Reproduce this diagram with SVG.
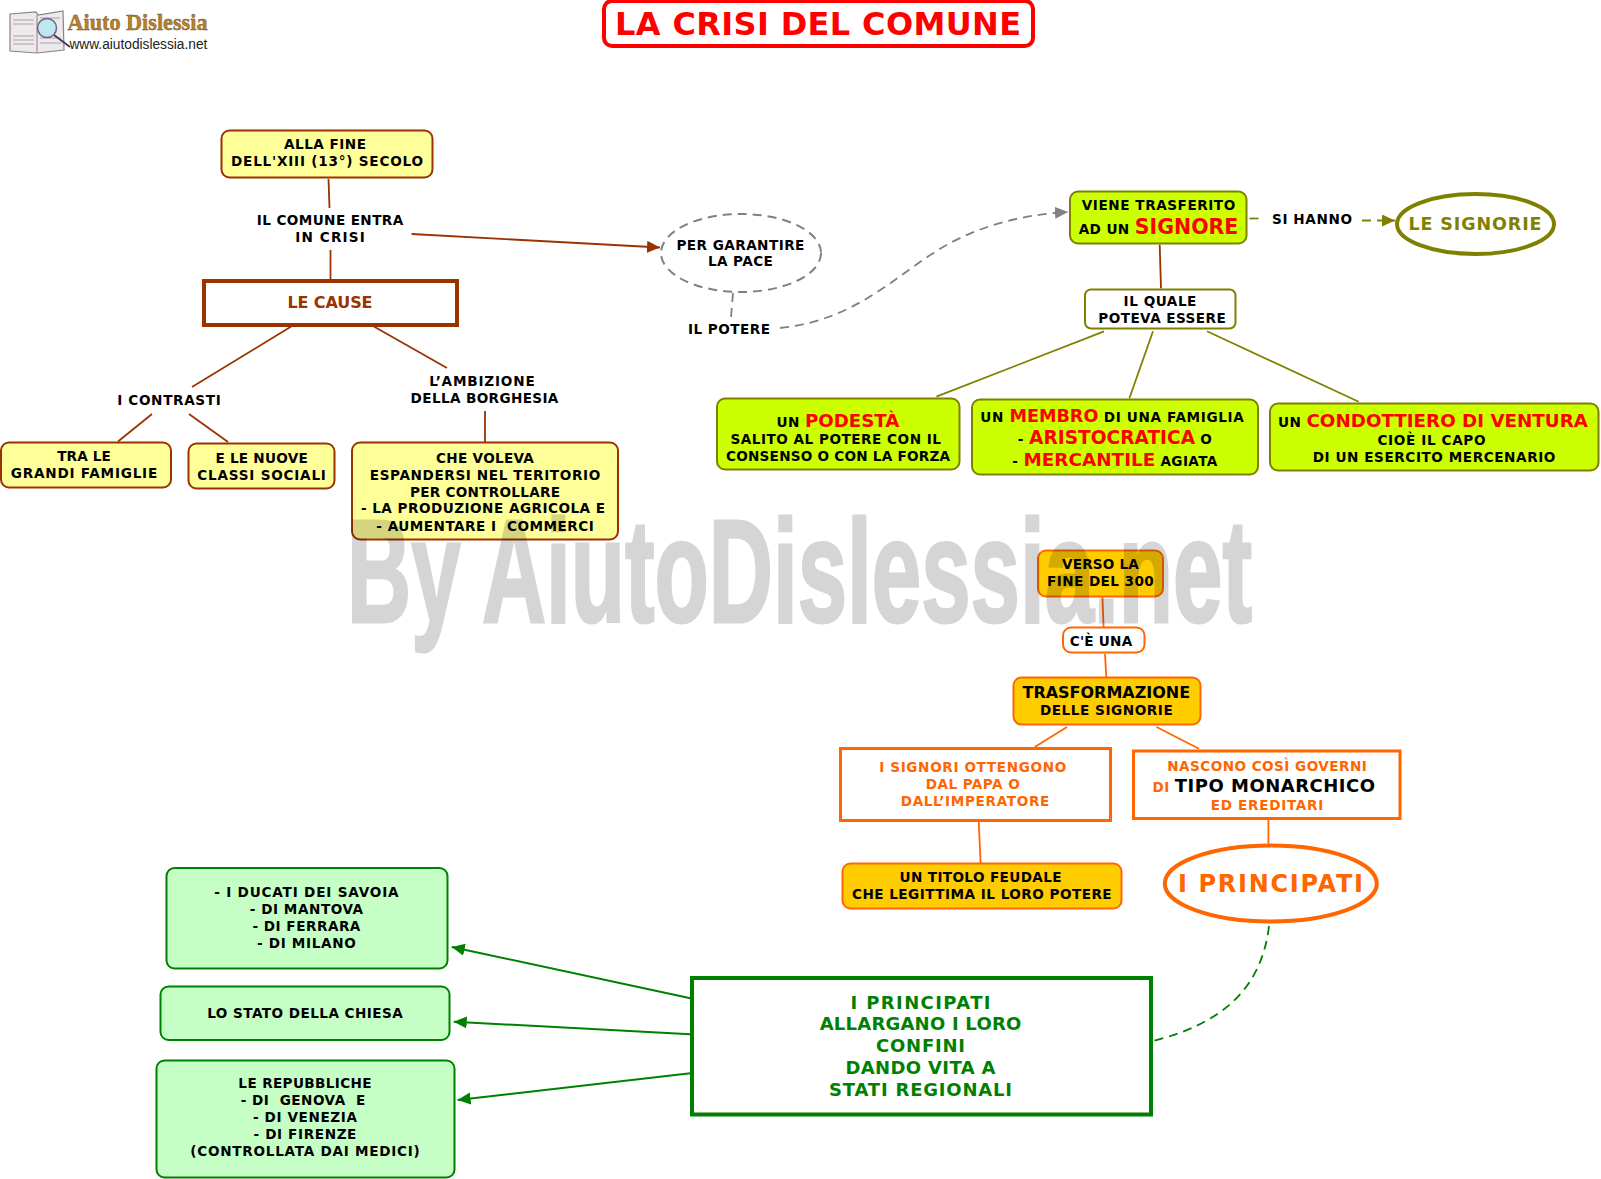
<svg xmlns="http://www.w3.org/2000/svg" width="1601" height="1179" viewBox="0 0 1601 1179">
<style>
text{font-family:"DejaVu Sans",Verdana,sans-serif;font-weight:bold;text-anchor:middle;font-size:13.6px;fill:#000;white-space:pre}
.y{fill:#ffff99;stroke:#993300;stroke-width:2}
.l{fill:#ccff00;stroke:#808000;stroke-width:2}
.o{fill:#ffcc00;stroke:#ff6600;stroke-width:2}
.g{fill:#c6ffc6;stroke:#008000;stroke-width:2}
.m{letter-spacing:.4px}
.r{fill:#ff0000;font-size:18.3px;letter-spacing:0}
.c{fill:none;stroke-width:1.8}
.br{stroke:#993300}.ol{stroke:#808000}.or{stroke:#ff6600}.gr{stroke:#008000}.gy{stroke:#808080}
.d{stroke-dasharray:9 6}
.ot{fill:#ff6600}
.v{font-size:18px;fill:#008000}
</style>
<defs>
<marker id="ab" markerUnits="userSpaceOnUse" markerWidth="14" markerHeight="14" refX="13" refY="6" orient="auto"><path d="M0 0L13 6L0 12Z" fill="#993300"/></marker>
<marker id="ag" markerUnits="userSpaceOnUse" markerWidth="14" markerHeight="14" refX="13" refY="6" orient="auto"><path d="M0 0L13 6L0 12Z" fill="#808080"/></marker>
<marker id="ao" markerUnits="userSpaceOnUse" markerWidth="14" markerHeight="14" refX="13" refY="6" orient="auto"><path d="M0 0L13 6L0 12Z" fill="#808000"/></marker>
<marker id="av" markerUnits="userSpaceOnUse" markerWidth="14" markerHeight="14" refX="13" refY="6" orient="auto"><path d="M0 0L13 6L0 12Z" fill="#008000"/></marker>
</defs>
<rect width="1601" height="1179" fill="#fff"/>
<g id="logo">
<path d="M10 14L36 12L38 15L63 11L64 50L37 53L10 51Z" fill="#eee9ea" stroke="#8d7f92" stroke-width="1.2"/>
<path d="M37 15V53" stroke="#8d7f92"/>
<path d="M13 20H34M13 24H34M13 36H34M13 40H34M13 44H34M40 38H61M40 43H61M40 18H60" stroke="#a9a3ae" stroke-width="1"/>
<circle cx="47" cy="28" r="9.500" fill="#bfe8ee" stroke="#70608a" stroke-width="1.500"/>
<path d="M54 35L70 47" stroke="#4a3a5a" stroke-width="2"/>
<text x="137.500" y="30" textLength="140" lengthAdjust="spacingAndGlyphs" style="font-family:'Liberation Serif',serif;font-size:23px;fill:#b8812a;stroke:#6b4a14;stroke-width:.4">Aiuto Dislessia</text>
<text x="138.400" y="49" textLength="138" lengthAdjust="spacingAndGlyphs" style="font-family:'Liberation Sans',sans-serif;font-size:14px;font-weight:normal;fill:#222">www.aiutodislessia.net</text>
</g>
<g id="connectors">
<path class="c br" d="M328.500 179L329.500 208"/>
<path class="c br" d="M330.500 250V279"/>
<path class="c br" marker-end="url(#ab)" d="M411.600 234L660 247.500"/>
<path class="c br" d="M292 326L192 387"/>
<path class="c br" d="M373 326L447 368"/>
<path class="c br" d="M152 414L118 441.500"/>
<path class="c br" d="M189 414L228 442"/>
<path class="c br" d="M485 411V442"/>
<path class="c gy d" d="M733 293L731 317"/>
<path class="c gy d" marker-end="url(#ag)" d="M780 328C860 320 900 270 950 243C985 225 1020 215 1068 212"/>
<path class="c ol d" d="M1249.500 218.500H1260"/>
<path class="c ol d" marker-end="url(#ao)" d="M1362 220.500H1395"/>
<path class="c br" d="M1159.700 244.700L1161 288.300"/>
<path class="c ol" d="M1104 331.300L936.400 396.700"/>
<path class="c ol" d="M1153 331.300L1129.400 398.300"/>
<path class="c ol" d="M1207 331.300L1358.700 401.700"/>
<g transform="translate(0 1)">
<path class="c or" d="M1102.400 596L1103.600 626"/>
<path class="c or" d="M1105 653L1106.300 676"/>
<path class="c or" d="M1067 726L1034.800 746"/>
<path class="c or" d="M1156.500 726L1199 747.700"/>
<path class="c or" d="M978.700 820L980.600 862"/>
<path class="c or" d="M1268.400 818.700V842.700"/>
<path class="c gr d" d="M1269 925C1262 985 1225 1022 1153 1040"/>
<path class="c gr" marker-end="url(#av)" style="stroke-width:2" d="M690.400 997.300L451.700 946"/>
<path class="c gr" marker-end="url(#av)" style="stroke-width:2" d="M690.400 1033.300L453.700 1020.700"/>
<path class="c gr" marker-end="url(#av)" style="stroke-width:2" d="M690.400 1072.300L457.600 1099"/>
</g>
</g>
<g id="titolo"><rect x="604" y="1" width="429" height="45" rx="8" fill="#fff" stroke="#ff0000" stroke-width="4"/><text x="818" y="35" textLength="406" style="font-size:32px;fill:#ff0000">LA CRISI DEL COMUNE</text></g>
<g id="alla-fine"><rect class="y" x="221.500" y="130.500" width="211" height="47" rx="8"/><text x="325" y="149" textLength="82">ALLA FINE</text><text x="327" y="166" textLength="192">DELL'XIII (13°) SECOLO</text></g>
<g id="comune"><text x="330" y="225" textLength="146.400">IL COMUNE ENTRA</text><text x="330" y="242" textLength="69.600">IN CRISI</text></g>
<g id="cause"><rect x="204" y="281" width="253" height="44" fill="#fff" stroke="#993300" stroke-width="4"/><text x="330" y="308" textLength="85" style="font-size:16px;fill:#993300">LE CAUSE</text></g>
<g id="contrasti"><text x="169" y="405" textLength="103.600">I CONTRASTI</text></g>
<g id="ambizione"><text x="482" y="386" textLength="105.400">L’AMBIZIONE</text><text x="484.500" y="402.500" textLength="147.800">DELLA BORGHESIA</text></g>
<g id="famiglie"><rect class="y" x="1" y="442.500" width="170" height="45" rx="8"/><text x="84" y="461" textLength="53.600">TRA LE</text><text x="84" y="478" textLength="146.400">GRANDI FAMIGLIE</text></g>
<g id="classi"><rect class="y" x="188.500" y="443.500" width="146" height="45" rx="8"/><text x="261.600" y="462.500" textLength="92.400">E LE NUOVE</text><text x="261.600" y="479.500" textLength="128.600">CLASSI SOCIALI</text></g>
<g id="voleva"><rect class="y" x="352" y="442.500" width="266" height="97" rx="8"/><text x="485" y="462.500" textLength="97.800">CHE VOLEVA</text><text x="485" y="479.500" textLength="230.400">ESPANDERSI NEL TERITORIO</text><text x="485" y="496.500" textLength="150">PER CONTROLLARE</text><text x="483" y="513.300" textLength="244.200">- LA PRODUZIONE AGRICOLA E</text><text x="485" y="530.500" textLength="217.400">- AUMENTARE I  COMMERCI</text></g>
<g id="pace"><ellipse cx="741" cy="253" rx="80" ry="39" fill="#fff" stroke="#808080" stroke-width="2" stroke-dasharray="9 6"/><text x="740.400" y="249.700" textLength="128">PER GARANTIRE</text><text x="740.400" y="266.300" textLength="65">LA PACE</text></g>
<g id="potere"><text x="729" y="334" textLength="82">IL POTERE</text></g>
<g id="viene"><rect class="l" x="1070" y="191.500" width="176.500" height="52" rx="8"/><text x="1158.500" y="210.300" textLength="153.500">VIENE TRASFERITO</text><text class="m" x="1158.500" y="234">AD UN <tspan class="r" style="font-size:20.500px">SIGNORE</tspan></text></g>
<g id="hanno"><text x="1312" y="224.300" textLength="80">SI HANNO</text></g>
<g id="signorie"><ellipse cx="1475.500" cy="224" rx="78.500" ry="30" fill="#fff" stroke="#808000" stroke-width="4"/><text x="1475" y="230.300" textLength="133" style="font-size:17.500px;fill:#808000">LE SIGNORIE</text></g>
<g id="quale"><rect x="1085" y="289.500" width="150.500" height="39" rx="6" fill="#fff" stroke="#808000" stroke-width="2"/><text x="1160" y="305.800" textLength="72.800">IL QUALE</text><text x="1162" y="322.500" textLength="127.400">POTEVA ESSERE</text></g>
<g id="podesta"><rect class="l" x="717" y="398.500" width="242.500" height="71" rx="8"/><text class="m" x="838" y="427">UN <tspan class="r" style="font-size:18.200px">PODESTÀ</tspan></text><text x="835.700" y="444" textLength="210.600">SALITO AL POTERE CON IL</text><text x="838" y="461" textLength="224">CONSENSO O CON LA FORZA</text></g>
<g id="membro"><rect class="l" x="972" y="399.500" width="286" height="75" rx="8"/><text class="m" x="1112.400" y="421.500" style="letter-spacing:.65px">UN <tspan class="r" style="font-size:17.600px">MEMBRO</tspan> DI UNA FAMIGLIA</text><text class="m" x="1115" y="443.500">- <tspan class="r" style="font-size:18.600px">ARISTOCRATICA</tspan> O</text><text class="m" x="1115" y="465.500">- <tspan class="r" style="font-size:18.400px">MERCANTILE</tspan> AGIATA</text></g>
<g id="condottiero"><rect class="l" x="1270" y="403.500" width="328.500" height="67" rx="8"/><text class="m" x="1433" y="427">UN <tspan class="r">CONDOTTIERO DI VENTURA</tspan></text><text x="1431.500" y="445" textLength="108">CIOÈ IL CAPO</text><text x="1434" y="462" textLength="242.700">DI UN ESERCITO MERCENARIO</text></g>
<g transform="translate(0 1)">
<g id="verso"><rect class="o" x="1038" y="549.500" width="125" height="46" rx="8"/><text x="1100.400" y="568.300" textLength="76.700">VERSO LA</text><text x="1100.400" y="585.300" textLength="106.700">FINE DEL 300</text></g>
<g id="ce-una"><rect x="1063" y="626.500" width="81.500" height="25" rx="8" fill="#fff" stroke="#ff6600" stroke-width="2"/><text x="1101" y="645.300" textLength="62.500">C'È UNA</text></g>
<g id="trasformazione"><rect class="o" x="1013.500" y="676.500" width="187" height="47" rx="8"/><text x="1106.300" y="697.300" textLength="167.600" style="font-size:16px">TRASFORMAZIONE</text><text x="1106.300" y="714.300" textLength="132.800">DELLE SIGNORIE</text></g>
<g id="ottengono"><rect x="840.500" y="747.500" width="270" height="72" fill="#fff" stroke="#ff6600" stroke-width="3"/><text class="ot" x="972.700" y="771.300" textLength="187">I SIGNORI OTTENGONO</text><text class="ot" x="972.700" y="788.300" textLength="94">DAL PAPA O</text><text class="ot" x="975" y="805.300" textLength="148.600">DALL’IMPERATORE</text></g>
<g id="monarchico"><rect x="1133.500" y="750" width="266.500" height="67.500" fill="#fff" stroke="#ff6600" stroke-width="3"/><text class="ot" x="1267" y="770.300" textLength="199.600">NASCONO COSÌ GOVERNI</text><text class="ot m" x="1264" y="791">DI <tspan style="font-size:18px;fill:#000;letter-spacing:.5px">TIPO MONARCHICO</tspan></text><text class="ot" x="1267" y="809.300" textLength="112.600">ED EREDITARI</text></g>
<g id="titolo-feudale"><rect class="o" x="842.500" y="862.500" width="279" height="45" rx="8"/><text x="980.500" y="881.300" textLength="162">UN TITOLO FEUDALE</text><text x="981.800" y="898.300" textLength="259.700">CHE LEGITTIMA IL LORO POTERE</text></g>
<g id="principati"><ellipse cx="1270.800" cy="882.500" rx="106" ry="38" fill="#fff" stroke="#ff6600" stroke-width="4"/><text x="1270.400" y="891" textLength="185" style="font-size:24px;fill:#ff6600">I PRINCIPATI</text></g>
<g id="ducati"><rect class="g" x="166.500" y="867" width="281" height="100.500" rx="8"/><text x="306.400" y="896.300" textLength="184.400">- I DUCATI DEI SAVOIA</text><text x="306.400" y="913.300" textLength="113.400">- DI MANTOVA</text><text x="306.400" y="930.300" textLength="108">- DI FERRARA</text><text x="306.400" y="947.300" textLength="98.800">- DI MILANO</text></g>
<g id="chiesa"><rect class="g" x="160.500" y="985.500" width="289" height="53.500" rx="8"/><text x="305" y="1017.300" textLength="195.600">LO STATO DELLA CHIESA</text></g>
<g id="repubbliche"><rect class="g" x="156.500" y="1059.500" width="298" height="117" rx="8"/><text x="305" y="1087.300" textLength="133.300">LE REPUBBLICHE</text><text x="303" y="1104.300" textLength="124.700">- DI  GENOVA  E</text><text x="305" y="1121.300" textLength="104">- DI VENEZIA</text><text x="305" y="1138.300" textLength="102.800">- DI FIRENZE</text><text x="305" y="1155.300" textLength="229.400">(CONTROLLATA DAI MEDICI)</text></g>
<g id="stati"><rect x="692" y="977" width="459" height="136.500" fill="#fff" stroke="#008000" stroke-width="4"/><text class="v" x="920.500" y="1007.500" textLength="140">I PRINCIPATI</text><text class="v" x="920.500" y="1029.200" textLength="201.600">ALLARGANO I LORO</text><text class="v" x="920.500" y="1051.200" textLength="88.900">CONFINI</text><text class="v" x="920.500" y="1073.200" textLength="150">DANDO VITA A</text><text class="v" x="920.500" y="1095.200" textLength="183">STATI REGIONALI</text></g>
</g>
<text id="watermark" x="799.500" y="622" opacity=".16" textLength="905" lengthAdjust="spacingAndGlyphs" style="font-family:'Liberation Sans Narrow','Liberation Sans',sans-serif;font-size:146px;fill:#000;stroke:#000;stroke-width:3">By AiutoDislessia.net</text>
</svg>
